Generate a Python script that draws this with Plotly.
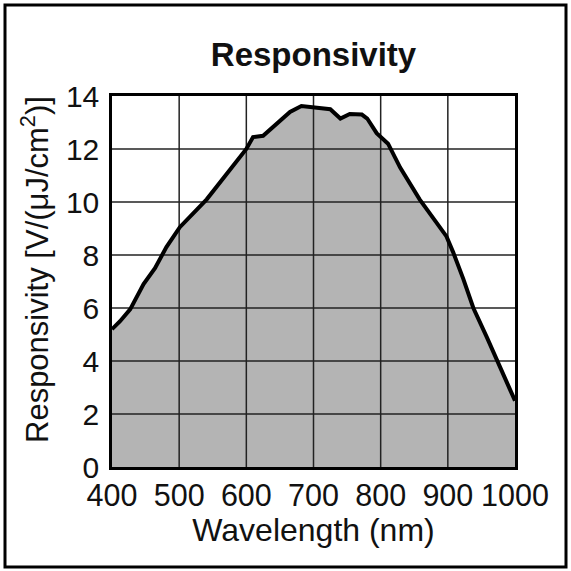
import plotly.graph_objects as go

wavelength_nm = [400, 412, 427, 447, 464, 481, 501, 541, 600, 610, 625, 640, 665, 682, 705, 725,
                 740, 754, 772, 780, 794, 811, 829, 858, 898, 908, 923, 938, 958, 1000]
responsivity = [5.2, 5.5, 5.95, 6.9, 7.5, 8.3, 9.05, 10.1, 12.0, 12.45, 12.5, 12.85, 13.4, 13.62, 13.55, 13.5,
                13.15, 13.32, 13.3, 13.15, 12.6, 12.2, 11.3, 10.1, 8.7, 8.1, 7.1, 6.0, 4.9, 2.5]

x_ticks = [400, 500, 600, 700, 800, 900, 1000]
y_ticks = [0, 2, 4, 6, 8, 10, 12, 14]

FONT = "Liberation Sans, Arial, sans-serif"

fig = go.Figure()

# gray filled area
fig.add_trace(go.Scatter(x=wavelength_nm, y=responsivity, mode="lines", fill="tozeroy",
                         fillcolor="#b4b4b4", line=dict(width=0, color="rgba(0,0,0,0)"),
                         hoverinfo="skip", showlegend=False))

# grid lines drawn over the fill
gx, gy = [], []
for t in x_ticks[1:-1]:
    gx += [t, t, None]
    gy += [y_ticks[0], y_ticks[-1], None]
for t in y_ticks[1:-1]:
    gx += [x_ticks[0], x_ticks[-1], None]
    gy += [t, t, None]
fig.add_trace(go.Scatter(x=gx, y=gy, mode="lines", line=dict(color="#222222", width=1.5),
                         hoverinfo="skip", showlegend=False))

# curve
fig.add_trace(go.Scatter(x=wavelength_nm, y=responsivity, mode="lines",
                         line=dict(color="black", width=4, shape="linear"), showlegend=False))

fig.update_layout(
    width=571, height=571,
    margin=dict(l=112, r=56, t=96, b=104),
    paper_bgcolor="white", plot_bgcolor="white",
    font=dict(family=FONT, color="#111", size=30),
    title=dict(text="<b>Responsivity</b>", x=(313.5) / 571, xanchor="center",
               y=1 - 54 / 571, yanchor="middle", yref="container",
               font=dict(family=FONT, size=33, color="#111")),
    xaxis=dict(range=[400, 1000], tickvals=x_ticks, showgrid=False, zeroline=False,
               showline=True, linecolor="black", linewidth=2.5, mirror=True,
               ticks="", tickfont=dict(size=30.5), ticklabelstandoff=0,
               title=dict(text="Wavelength (nm)", font=dict(size=32), standoff=2)),
    yaxis=dict(range=[0, 14], tickvals=y_ticks, showgrid=False, zeroline=False,
               showline=True, linecolor="black", linewidth=2.5, mirror=True,
               ticks="", tickfont=dict(size=30), ticklabelstandoff=4),
    annotations=[dict(text="Responsivity [V/(μJ/cm<sup>2</sup>)]", textangle=-90,
                      xref="paper", yref="paper", x=(35 - 112) / 403, y=(467 - 270) / 371,
                      xanchor="center", yanchor="middle", showarrow=False,
                      font=dict(family=FONT, size=31, color="#111"))],
    shapes=[dict(type="rect", xref="paper", yref="paper",
                 x0=(5 - 112) / 403, x1=(566 - 112) / 403,
                 y0=(467 - 567) / 371, y1=(467 - 5) / 371,
                 line=dict(color="black", width=3), layer="above")],
)

fig.write_html("out.html", config={"displayModeBar": False},
               post_script="document.body.style.margin='0';document.body.style.overflow='hidden';")
